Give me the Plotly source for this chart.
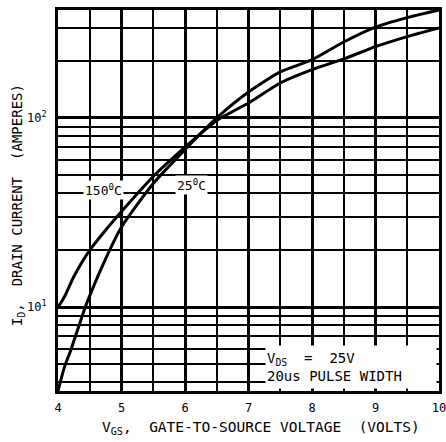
import math
import plotly.graph_objects as go

# Data
vgs_150 = [4.0, 4.1, 4.25, 4.5, 4.75, 5.0, 5.5, 6.0, 6.5, 7.0, 7.5, 8.0, 8.5, 9.0, 9.5, 10.0]
id_150 = [10, 11.3, 14.5, 20, 25.5, 32, 49, 70, 97, 120, 153, 180, 205, 238, 269, 299]

vgs_25 = [4.0, 4.1, 4.2, 4.43, 4.5, 4.75, 5.0, 5.5, 6.0, 6.5, 7.0, 7.5, 8.0, 8.5, 9.0, 9.5, 10.0]
id_25 = [3.6, 4.8, 5.9, 10, 11.5, 18, 26.5, 45, 68, 100, 137, 175, 203, 252, 302, 339, 372]

x_ticks = [4, 5, 6, 7, 8, 9, 10]
y_ticks = [10, 100]
y_ticktext = ["10<sup>1</sup>", "10<sup>2</sup>"]

FONT = "DejaVu Sans Mono"

fig = go.Figure()
fig.add_trace(go.Scatter(x=vgs_150, y=id_150, mode="lines", name="150°C",
                         line=dict(color="black", width=3, shape="spline", smoothing=0.6)))
fig.add_trace(go.Scatter(x=vgs_25, y=id_25, mode="lines", name="25°C",
                         line=dict(color="black", width=3, shape="spline", smoothing=0.6)))

fig.update_layout(
    width=446, height=442,
    margin=dict(l=58, r=7, t=10, b=51, autoexpand=False),
    paper_bgcolor="white", plot_bgcolor="white",
    showlegend=False,
    font=dict(family=FONT, color="black", size=12),
)

fig.update_xaxes(
    range=[4, 10], tickvals=x_ticks, ticks="", automargin=False,
    showgrid=True, gridcolor="black", gridwidth=3,
    showline=True, linecolor="black", linewidth=3, mirror=True,
    minor=dict(dtick=0.5, showgrid=True, gridcolor="black", gridwidth=1.5),
    tickfont=dict(family=FONT, size=12), ticklabelstandoff=4,
    ticklabeloverflow="allow",
    zeroline=False,
)
fig.update_yaxes(
    type="log", range=[math.log10(3.6), math.log10(372)], automargin=False,
    tickvals=y_ticks, ticktext=y_ticktext, ticks="",
    showgrid=True, gridcolor="black", gridwidth=3,
    showline=True, linecolor="black", linewidth=3, mirror=True,
    minor=dict(dtick="D1", showgrid=True, gridcolor="black", gridwidth=1.8),
    tickfont=dict(family=FONT, size=12), ticklabelstandoff=6,
    zeroline=False,
)

# Curve labels
fig.add_annotation(x=4.71, y=math.log10(41.6), text="150<sup>0</sup>C", showarrow=False,
                   bgcolor="white", font=dict(family=FONT, size=13))
fig.add_annotation(x=6.11, y=math.log10(44.2), text="25<sup>0</sup>C", showarrow=False,
                   bgcolor="white", font=dict(family=FONT, size=13))

# Conditions box
fig.add_annotation(x=1.0, y=0.0, xref="paper", yref="paper", xanchor="right", yanchor="bottom",
                   xshift=-2, yshift=2,
                   text="V<sub>DS</sub>  =  25V<br>20us PULSE WIDTH", align="left",
                   showarrow=False, bgcolor="white", width=168, height=40,
                   font=dict(family=FONT, size=14))

# Axis titles (pixel-positioned relative to the plot area)
fig.add_annotation(x=0, y=0.5, xref="paper", yref="paper", xanchor="center", yanchor="middle",
                   xshift=18 - 58, yshift=(442 - 51 - 205) - (381 / 2),
                   text="I<sub>D</sub>,  DRAIN CURRENT  (AMPERES)",
                   showarrow=False, textangle=-90, font=dict(family=FONT, size=14))
fig.add_annotation(x=0, y=0, xref="paper", yref="paper", xanchor="center", yanchor="middle",
                   xshift=261 - 58, yshift=-(428 - 391),
                   text="V<sub>GS</sub>,  GATE-TO-SOURCE VOLTAGE  (VOLTS)",
                   showarrow=False, font=dict(family=FONT, size=14.5))

fig.write_html("out.html", config={"displayModeBar": False},
               post_script="document.body.style.margin='0';document.body.style.overflow='hidden';")
